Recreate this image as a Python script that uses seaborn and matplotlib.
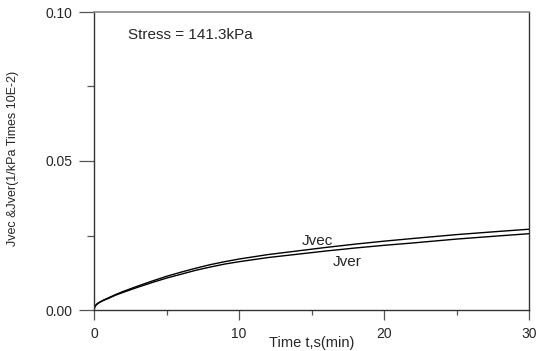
import matplotlib
matplotlib.use("Agg")
import matplotlib.pyplot as plt
from matplotlib.ticker import MultipleLocator
import seaborn as sns
import pandas as pd

t = [0, 0.05, 0.15, 0.3, 0.6, 1, 1.5, 2, 3, 4, 5, 6, 7, 8, 9, 10,
     12, 14, 16, 18, 20, 22, 25, 28, 30]
jvec = [0, 0.0011, 0.0018, 0.0024, 0.0032, 0.0041, 0.0052, 0.0062, 0.0080,
        0.0097, 0.0113, 0.0127, 0.0140, 0.0152, 0.0162, 0.0171, 0.0186,
        0.0198, 0.0210, 0.0221, 0.0231, 0.0240, 0.0253, 0.0264, 0.0271]
jver = [0, 0.0010, 0.0017, 0.0023, 0.0031, 0.0039, 0.0050, 0.0059, 0.0076,
        0.0092, 0.0107, 0.0120, 0.0133, 0.0144, 0.0154, 0.0162, 0.0176,
        0.0187, 0.0198, 0.0208, 0.0217, 0.0225, 0.0238, 0.0249, 0.0256]
x_ticks = [0, 10, 20, 30]
y_ticks = [0.00, 0.05, 0.10]
y_tick_labels = ["0.00", "0.05", "0.10"]

df = pd.concat([
    pd.DataFrame({"t": t, "J": jvec, "series": "Jvec"}),
    pd.DataFrame({"t": t, "J": jver, "series": "Jver"}),
])

sns.set_theme(style="ticks")
plt.rcParams['font.family'] = ['Liberation Sans', 'DejaVu Sans']

fig = plt.figure(figsize=(5.36, 3.51), dpi=100)
ax = fig.add_axes([94/536, 41/351, 435/536, 298/351])

sns.lineplot(data=df, x="t", y="J", hue="series", palette=["black", "black"],
             linewidth=1.0, legend=False, ax=ax, sort=False)

ax.set_xlim(0, 30)
ax.set_ylim(0, 0.10)
ax.set_xticks(x_ticks)
ax.set_xticklabels([str(v) for v in x_ticks])
ax.set_yticks(y_ticks)
ax.set_yticklabels(y_tick_labels)
ax.xaxis.set_minor_locator(MultipleLocator(5))
ax.yaxis.set_minor_locator(MultipleLocator(0.025))
ax.tick_params(axis="y", which="major", length=10.5, width=0.9, color="#555555",
               labelsize=10, pad=5)
ax.tick_params(axis="y", which="minor", length=5, width=0.9, color="#555555")
ax.tick_params(axis="x", which="major", length=7, width=0.9, color="#555555",
               labelsize=10, pad=5)
ax.tick_params(axis="x", which="minor", length=3.6, width=0.9, color="#555555")
ax.tick_params(top=False, right=False)

for side in ["left", "bottom", "right"]:
    ax.spines[side].set_color("#333333")
    ax.spines[side].set_linewidth(1.0)
ax.spines["top"].set_color("#888888")
ax.spines["top"].set_linewidth(1.2)

ax.set_xlabel("Time t,s(min)", fontsize=10.5, va="center")
ax.xaxis.set_label_coords(0.5, -33/298)
ax.set_ylabel("Jvec &Jver(1/kPa Times 10E-2)", fontsize=9, va="center")
ax.yaxis.set_label_coords(-81/435, 0.51)

ax.text(2.34, 0.0923, "Stress = 141.3kPa", fontsize=11, va="center", ha="left")
ax.text(15.4, 0.0232, "Jvec", fontsize=11, va="center", ha="center")
ax.text(17.45, 0.0161, "Jver", fontsize=11, va="center", ha="center")

fig.savefig("out.png", dpi=100)
